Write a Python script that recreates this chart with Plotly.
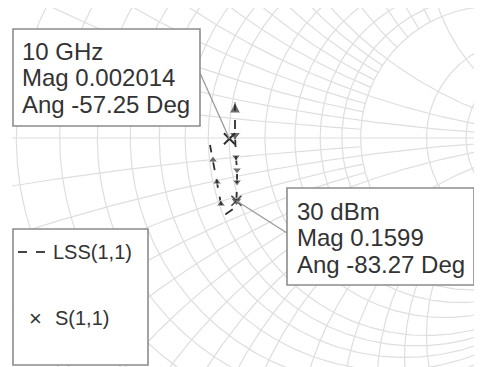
import numpy as np
import plotly.graph_objects as go

# ---------------- data ----------------
# Smith chart grid values (normalised resistance / reactance)
r_circles = [0.1, 0.2, 0.3, 0.4, 0.5, 0.6, 0.7, 0.8, 0.9, 1.0,
             1.2, 1.4, 1.6, 1.8, 2.0, 3.0, 4.0, 5.0]
x_arcs_major = [0.2, 0.5, 1.0, 2.0, 5.0]
x_arcs_fine = [0.1, 0.3, 0.4, 0.6, 0.7, 0.8, 0.9, 1.2, 1.4, 1.6, 1.8, 3.0, 4.0]
fine_arc_r_limit = 2.0

lss_re = [0.0152, 0.0152, 0.0152, 0.0177, 0.0203, 0.0203, 0.0187,
          0.0101, -0.0076, -0.0203, -0.0304, -0.0405, -0.0481]
lss_im = [0.0911, 0.0506, 0.0076, -0.0481, -0.0810, -0.1114, -0.1588,
          -0.1797, -0.1924, -0.1671, -0.1114, -0.0557, -0.0177]
lss_name = "LSS(1,1)"

# S(1,1) marker
s11_name = "S(1,1)"
s11_label = "10 GHz"
s11_mag = 0.002014
s11_ang = -57.25

# LSS marker
lss_label = "30 dBm"
lss_mark_mag = 0.1599
lss_mark_ang = -83.27

# ---------------- geometry helpers (page pixel -> data) ----------------
BODY = 8                      # default page margin of the html body
W, H = 482 - BODY, 367 - BODY  # figure size so that it fits the window
PLOT_L, PLOT_T = 12, 8         # plot area corner in page pixels
CX, CY, S = 229.0, 138.0, 395.0


def dx(px):
    return (px - CX) / S


def dy(py):
    return (CY - py) / S


# ---------------- grid ----------------
gx, gy = [], []
th = np.linspace(-np.pi / 2 + 1e-4, np.pi / 2 - 1e-4, 600)
for r in r_circles:
    z = r + 1j * np.tan(th)
    g = (z - 1) / (z + 1)
    gx += list(g.real) + [None]
    gy += list(g.imag) + [None]


def add_arc(xv, rmax):
    phmax = np.arctan(rmax)
    ph = np.linspace(0, phmax, 500)
    for sgn in (1, -1):
        z = np.tan(ph) + 1j * sgn * xv
        g = (z - 1) / (z + 1)
        gx.extend(list(g.real) + [None])
        gy.extend(list(g.imag) + [None])


for xv in x_arcs_major:
    add_arc(xv, 1e4)
for xv in x_arcs_fine:
    add_arc(xv, fine_arc_r_limit)
# real axis
gx += [-1, 1, None]
gy += [0, 0, None]

fig = go.Figure()
fig.add_trace(go.Scatter(x=gx, y=gy, mode="lines",
                         line=dict(color="#dedede", width=1.2),
                         hoverinfo="skip", showlegend=False))

# ---------------- traces ----------------
lss_symbols = ["arrow-up", "circle", "triangle-down", "triangle-down", "triangle-down",
               "triangle-down", "triangle-down", "circle", "circle",
               "triangle-up", "triangle-up", "triangle-up", "circle"]
lss_sizes = [11, 0, 10, 8, 8, 8, 10, 0, 0, 8, 8, 8, 0]
fig.add_trace(go.Scatter(x=lss_re, y=lss_im, mode="lines+markers", name=lss_name,
                         line=dict(color="#2e2e2e", width=1.8, dash="dash"),
                         marker=dict(symbol=lss_symbols, size=lss_sizes, color="#2e2e2e"),
                         showlegend=False))

s11 = s11_mag * np.exp(1j * np.deg2rad(s11_ang))
fig.add_trace(go.Scatter(x=[s11.real], y=[s11.imag], mode="markers", name=s11_name,
                         marker=dict(symbol="x-thin", size=11,
                                     line=dict(color="#2e2e2e", width=2)),
                         showlegend=False))
lm = lss_mark_mag * np.exp(1j * np.deg2rad(lss_mark_ang))
fig.add_trace(go.Scatter(x=[lm.real], y=[lm.imag], mode="markers",
                         marker=dict(symbol="x-thin", size=10,
                                     line=dict(color="#444444", width=1.6)),
                         showlegend=False, hoverinfo="skip"))

# ---------------- marker boxes, leaders, legend ----------------
shapes = []
annos = []
FONT = "Liberation Sans, Arial, sans-serif"
TXT = "#333333"
BOX = "#8c8c8c"


def box(x0, y0, x1, y1):
    shapes.append(dict(type="rect", xref="x", yref="y", layer="above",
                       x0=dx(x0), x1=dx(x1), y0=dy(y1), y1=dy(y0),
                       line=dict(color=BOX, width=1.6), fillcolor="white"))


def text(px, py, t, size):
    annos.append(dict(x=dx(px), y=dy(py), xref="x", yref="y", text=t,
                      showarrow=False, xanchor="left", yanchor="middle",
                      font=dict(family=FONT, size=size, color=TXT)))


def leader(px, py, pt):
    shapes.append(dict(type="line", xref="x", yref="y", layer="above",
                       x0=dx(px), y0=dy(py), x1=pt.real, y1=pt.imag,
                       line=dict(color="#9a9a9a", width=1.3)))


leader(200, 73, s11)
leader(287, 233, lm)

box(13, 29, 200, 126)
text(20, 51, s11_label, 24)
text(20, 77.5, f"Mag {s11_mag}", 24)
text(20, 104, f"Ang {s11_ang} Deg", 24)

box(287, 188, 474, 285)
text(295, 211, lss_label, 24)
text(295, 237.5, f"Mag {lss_mark_mag}", 24)
text(295, 264, f"Ang {lss_mark_ang} Deg", 24)

# legend
box(13, 229, 148, 365)
shapes.append(dict(type="line", xref="x", yref="y", layer="above",
                   x0=dx(18), x1=dx(48), y0=dy(252), y1=dy(252),
                   line=dict(color="#444444", width=2, dash="dash")))
text(51, 252, lss_name, 20)
text(27, 318, "×", 22)
text(53, 318, s11_name, 20)

fig.update_layout(
    width=W, height=H,
    margin=dict(l=PLOT_L - BODY, r=0, t=PLOT_T - BODY, b=0),
    paper_bgcolor="white", plot_bgcolor="white",
    xaxis=dict(range=[dx(PLOT_L), dx(W + BODY)], visible=False,
               showgrid=False, zeroline=False),
    yaxis=dict(range=[dy(H + BODY), dy(PLOT_T)], visible=False,
               showgrid=False, zeroline=False),
    shapes=shapes, annotations=annos, showlegend=False,
)

fig.write_html("out.html")
